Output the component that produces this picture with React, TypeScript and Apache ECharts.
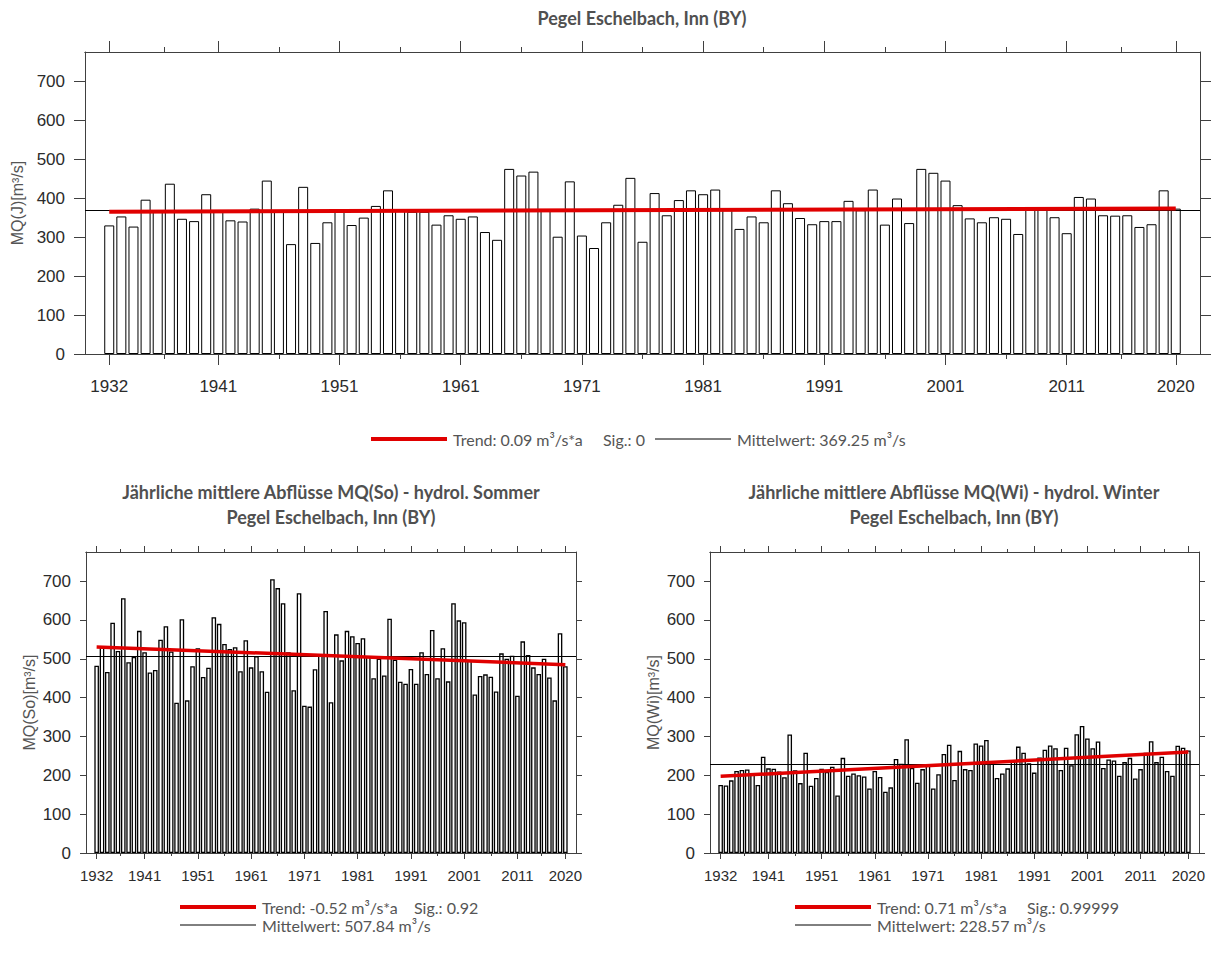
import React, { useEffect, useRef } from "react";
import * as echarts from "echarts";

const years: number[] = Array.from({ length: 89 }, (_, i) => 1932 + i);

const mqJ: number[] = [
  330, 353, 327, 396, 367, 437, 347, 341, 410, 367,
  343, 340, 373, 445, 366, 282, 429, 285, 338, 372,
  331, 350, 380, 420, 368, 365, 365, 332, 356, 347,
  353, 313, 293, 475, 458, 468, 368, 301, 443, 304,
  272, 338, 383, 452, 288, 413, 356, 395, 420, 410,
  422, 372, 321, 353, 338, 420, 387, 349, 333, 341,
  341, 393, 369, 422, 332, 399, 336, 475, 465, 445,
  382, 348, 338, 351, 347, 308, 372, 371, 351, 310,
  403, 399, 356, 355, 356, 326, 333, 420, 373,
];

const mqSo: number[] = [
  482, 530, 466, 593, 520, 656, 491, 505, 572, 517,
  465, 471, 549, 584, 519, 387, 602, 393, 481, 527,
  453, 477, 607, 590, 538, 525, 530, 468, 548, 478,
  507, 468, 415, 705, 682, 643, 517, 419, 669, 379,
  377, 473, 508, 623, 388, 563, 496, 572, 558, 541,
  553, 507, 450, 500, 457, 603, 498, 441, 436, 474,
  436, 517, 461, 574, 450, 527, 442, 643, 599, 594,
  495, 408, 456, 460, 454, 416, 514, 500, 508, 405,
  545, 510, 478, 461, 500, 452, 393, 566, 481,
];

const mqWi: number[] = [
  175, 174, 187, 211, 214, 215, 203, 175, 248, 218,
  217, 210, 195, 305, 213, 180, 258, 173, 193, 217,
  209, 222, 148, 245, 199, 205, 200, 197, 166, 211,
  196, 158, 169, 242, 230, 293, 219, 181, 216, 229,
  166, 203, 255, 279, 188, 263, 216, 214, 282, 277,
  291, 237, 193, 205, 218, 237, 274, 258, 231, 207,
  246, 266, 277, 270, 214, 271, 226, 306, 327, 295,
  270, 287, 219, 241, 238, 199, 234, 245, 192, 216,
  258, 288, 234, 248, 211, 199, 276, 271, 264,
];

const majorTicks: number[] = [1932, 1941, 1951, 1961, 1971, 1981, 1991, 2001, 2011, 2020];
const minorTicks: number[] = [1936.5, 1946, 1956, 1966, 1976, 1986, 1996, 2006, 2015.5];
const yTicks: number[] = [0, 100, 200, 300, 400, 500, 600, 700];

const meanJ = 369.25;
const meanSo = 507.84;
const meanWi = 228.57;
const trendJ: number[][] = [[1932, 365.3], [2020, 373.2]];
const trendSo: number[][] = [[1932, 530.7], [2020, 485.0]];
const trendWi: number[][] = [[1932, 197.3], [2020, 259.8]];

const AX = "#404040";
const LBL = "#2b2b2b";
const GRAY = "#555555";
const RED = "#e00000";
const SANS = "'Liberation Sans', Arial, sans-serif";
const TITLEF = "Lato, 'Noto Sans', sans-serif";

type Cfg = {
  major: number;
  minor: number;
  xMargin: number;
  xFont: number;
  yMargin: number;
  yFont: number;
  name: string;
  nameGap: number;
};

function buildAxes(g: number, c: Cfg) {
  const lineStyle = { color: AX, width: 1 };
  const base = {
    type: "value",
    gridIndex: g,
    min: 1930,
    max: 2022,
    splitLine: { show: false },
    axisLine: { show: true, onZero: false, lineStyle },
  };
  const majorTick = { show: true, customValues: majorTicks, length: c.major, lineStyle };
  const minorTick = { show: true, customValues: minorTicks, length: c.minor, lineStyle };
  const xs = [
    {
      ...base,
      position: "bottom",
      axisTick: majorTick,
      axisLabel: {
        show: true,
        customValues: majorTicks,
        formatter: (v: number) => String(v),
        margin: c.xMargin,
        fontSize: c.xFont,
        color: LBL,
        fontFamily: SANS,
      },
    },
    { ...base, position: "bottom", axisTick: minorTick, axisLabel: { show: false } },
    { ...base, position: "top", axisTick: majorTick, axisLabel: { show: false } },
    { ...base, position: "top", axisTick: minorTick, axisLabel: { show: false } },
  ];
  const ybase = {
    type: "value",
    gridIndex: g,
    min: 0,
    max: 775,
    interval: 100,
    splitLine: { show: false },
    axisLine: { show: true, onZero: false, lineStyle },
    axisTick: { show: true, customValues: yTicks, length: c.major, lineStyle },
  };
  const ys = [
    {
      ...ybase,
      position: "left",
      axisLabel: {
        show: true,
        customValues: yTicks,
        margin: c.yMargin,
        fontSize: c.yFont,
        color: LBL,
        fontFamily: SANS,
      },
      name: c.name,
      nameLocation: "middle",
      nameGap: c.nameGap,
      nameTextStyle: { fontSize: 16, color: GRAY, fontFamily: SANS },
    },
    { ...ybase, position: "right", axisLabel: { show: false } },
  ];
  return { xs, ys };
}

function buildSeries(g: number, vals: number[], mean: number, trend: number[][], barWidth: number, borderWidth: number, trendWidth: number, name: string) {
  return [
    {
      type: "bar",
      name: name + "_bars",
      xAxisIndex: 4 * g,
      yAxisIndex: 2 * g,
      data: years.map((y, i) => [y, vals[i]]),
      barWidth,
      itemStyle: { color: "#ffffff", borderColor: "#000000", borderWidth },
      z: 2,
      markLine: {
        silent: true,
        symbol: "none",
        label: { show: false },
        lineStyle: { color: "#000000", width: 1, type: "solid" },
        data: [{ yAxis: mean }],
      },
    },
    {
      type: "line",
      name: name + "_trend",
      xAxisIndex: 4 * g,
      yAxisIndex: 2 * g,
      data: trend,
      symbol: "none",
      lineStyle: { color: RED, width: trendWidth },
      z: 5,
    },
  ];
}

function legendRow(x: number, y: number, color: string, width: number, text: string) {
  return [
    { type: "line", shape: { x1: x, y1: y, x2: x + 76, y2: y }, style: { stroke: color, lineWidth: width } },
    {
      type: "text",
      x: x + 82,
      y,
      style: { text, fill: GRAY, fontSize: 16, fontFamily: TITLEF, align: "left", verticalAlign: "middle" },
    },
  ];
}

function plainText(x: number, y: number, text: string) {
  return {
    type: "text",
    x,
    y,
    style: { text, fill: GRAY, fontSize: 16, fontFamily: TITLEF, align: "left", verticalAlign: "middle" },
  };
}

function titleText(x: number, y: number, text: string) {
  return {
    type: "text",
    x,
    y,
    style: {
      text,
      fill: "#505050",
      fontSize: 18,
      fontWeight: "bold",
      fontFamily: TITLEF,
      align: "center",
      verticalAlign: "top",
      lineHeight: 25,
    },
  };
}

export default function App() {
  const ref = useRef<HTMLDivElement>(null);
  useEffect(() => {
    if (!ref.current) return;
    const chart = echarts.init(ref.current, null, { renderer: "svg" });

    const a0 = buildAxes(0, { major: 11, minor: 5, xMargin: 24, xFont: 17, yMargin: 20, yFont: 17, name: "MQ(J)[m³/s]", nameGap: 54 });
    const a1 = buildAxes(1, { major: 6, minor: 3, xMargin: 15, xFont: 15, yMargin: 15, yFont: 17, name: "MQ(So)[m³/s]", nameGap: 49 });
    const a2 = buildAxes(2, { major: 6, minor: 3, xMargin: 15, xFont: 15, yMargin: 15, yFont: 17, name: "MQ(Wi)[m³/s]", nameGap: 49 });

    const option: any = {
      animation: false,
      backgroundColor: "#ffffff",
      grid: [
        { left: 85, top: 52, width: 1115, height: 302 },
        { left: 86, top: 552, width: 490, height: 301 },
        { left: 710, top: 552, width: 489, height: 301 },
      ],
      xAxis: [...a0.xs, ...a1.xs, ...a2.xs],
      yAxis: [...a0.ys, ...a1.ys, ...a2.ys],
      series: [
        ...buildSeries(0, mqJ, meanJ, trendJ, 10, 1, 4, "J"),
        ...buildSeries(1, mqSo, meanSo, trendSo, 4.6, 1.3, 3.5, "So"),
        ...buildSeries(2, mqWi, meanWi, trendWi, 4.6, 1.3, 3.5, "Wi"),
      ],
      graphic: [
        titleText(642, 5, "Pegel Eschelbach, Inn (BY)"),
        titleText(331, 479, "Jährliche mittlere Abflüsse MQ(So) - hydrol. Sommer\nPegel Eschelbach, Inn (BY)"),
        titleText(954, 479, "Jährliche mittlere Abflüsse MQ(Wi) - hydrol. Winter\nPegel Eschelbach, Inn (BY)"),
        ...legendRow(371, 439, RED, 4, "Trend: 0.09 m³/s*a"),
        plainText(603, 439, "Sig.: 0"),
        ...legendRow(655, 439, "#000000", 1, "Mittelwert: 369.25 m³/s"),
        ...legendRow(180, 907, RED, 4, "Trend: -0.52 m³/s*a"),
        plainText(414, 907, "Sig.: 0.92"),
        ...legendRow(180, 925, "#000000", 1, "Mittelwert: 507.84 m³/s"),
        ...legendRow(795, 907, RED, 4, "Trend: 0.71 m³/s*a"),
        plainText(1027, 907, "Sig.: 0.99999"),
        ...legendRow(795, 925, "#000000", 1, "Mittelwert: 228.57 m³/s"),
      ],
    };
    chart.setOption(option);
    return () => chart.dispose();
  }, []);
  return (
    <div
      ref={ref}
      style={{ position: "absolute", left: 0, top: 0, width: 1212, height: 967, background: "#ffffff" }}
    />
  );
}
